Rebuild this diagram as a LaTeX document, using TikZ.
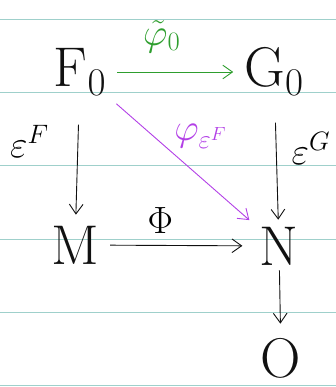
\RequirePackage{fix-cm}
\documentclass[tikz,border=0pt]{standalone}
\usepackage{amsmath,amssymb}
\usepackage{tikz}
\usetikzlibrary{arrows.meta,positioning}
\definecolor{Ink}{HTML}{111111}
\definecolor{Leaf}{HTML}{2E9E2E}
\definecolor{Plum}{HTML}{B23FE6}
\definecolor{Rule}{HTML}{9FD0CB}
\tikzset{
 obj/.style={font=\fontsize{56}{62}\selectfont,inner sep=1pt,text=Ink},
 lbl/.style={font=\fontsize{38}{42}\selectfont,inner sep=1pt},
 arr/.style={-{Straight Barb[length=3.4mm,width=4.8mm]},line width=0.9pt,draw=Ink},
 rule/.style={draw=Rule,line width=1pt}
}

\begin{document}
\begin{tikzpicture}[x=1pt,y=-1pt]
\useasboundingbox (0,0) rectangle (336,387);
% lined paper
\foreach \y in {20,93,166,239,312,385} \draw[rule] (0,\y) -- (336,\y);
% objects
\node[obj] (f0) at (80,72) {$\mathrm{F}_0$};
\node[obj] (g0) at (274,72) {$\mathrm{G}_0$};
\node[obj] (m) at (75,245) {$\mathrm{M}$};
\node[obj] (n) at (279,246) {$\mathrm{N}$};
\node[obj] (o) at (281,358) {$\mathrm{O}$};
% maps
\draw[arr,draw=Leaf,shorten <=10pt,shorten >=10pt] (f0) -- node[lbl,text=Leaf,pos=0.4,above=18pt] {$\tilde{\varphi}_0$} (g0);
\draw[arr,shorten <=28pt,shorten >=10pt] (f0) -- node[lbl,pos=0.35,left=28pt] {$\varepsilon^F$} (m);
\draw[arr,shorten <=26pt,shorten >=6pt] (g0) -- node[lbl,pos=0.4,right=14pt] {$\varepsilon^G$} (n);
\draw[arr,shorten <=10pt,shorten >=16pt] (m) -- node[lbl,pos=0.38,above=10pt] {$\Phi$} (n);
\draw[arr,draw=Plum,shorten <=12pt,shorten >=12pt] (f0) -- node[lbl,text=Plum,pos=0.5,above right=12pt and -10pt] {$\varphi_{\varepsilon^F}$} (n);
\draw[arr,shorten <=4pt,shorten >=14pt] (n) -- (o);
\end{tikzpicture}
\end{document}
